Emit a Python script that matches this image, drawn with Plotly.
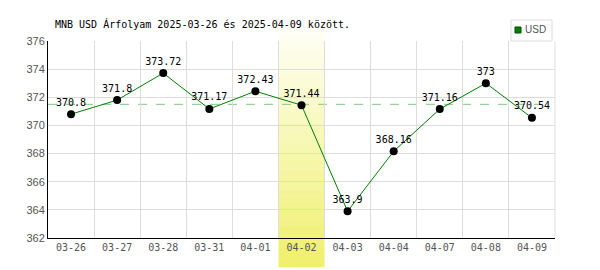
import plotly.graph_objects as go

dates = ["03-26", "03-27", "03-28", "03-31", "04-01", "04-02", "04-03", "04-04", "04-07", "04-08", "04-09"]
usd = [370.8, 371.8, 373.72, 371.17, 372.43, 371.44, 363.9, 368.16, 371.16, 373, 370.54]
ref_level = 371.5
highlight_idx = 5
title_text = "MNB USD Árfolyam 2025-03-26 és 2025-04-09 között."

fig = go.Figure()
fig.add_trace(go.Scatter(
    x=dates, y=usd, mode="lines+markers+text",
    line=dict(color="#008000", width=1),
    marker=dict(color="black", size=8),
    text=[f"{v:g}" for v in usd], textposition="top center",
    textfont=dict(family="DejaVu Sans Mono", size=10, color="black"),
    showlegend=False, cliponaxis=False,
))

shapes = []
# gradient highlight band
n = 40
top, bot = 1.061, -0.147
for i in range(n):
    t = i / (n - 1)
    r = int(255 + (240 - 255) * t)
    g = int(255 + (240 - 255) * t)
    b = int(245 + (110 - 245) * t)
    y0 = top - (top - bot) * i / n
    y1 = top - (top - bot) * (i + 1) / n
    shapes.append(dict(type="rect", xref="x", yref="paper",
                       x0=highlight_idx - 0.5, x1=highlight_idx + 0.5,
                       y0=y1, y1=y0 + 0.002, fillcolor=f"rgb({r},{g},{b})",
                       line=dict(width=0), layer="between"))
shapes.append(dict(type="line", xref="paper", yref="y", x0=0, x1=0.99,
                   y0=ref_level, y1=ref_level,
                   line=dict(color="#80c880", width=1, dash="dash"), layer="between"))
# right edge gridline
shapes.append(dict(type="line", xref="paper", yref="paper", x0=1, x1=1, y0=0, y1=1,
                   line=dict(color="#dddddd", width=1), layer="below"))
# legend box
lx0, lx1 = (511 - 48) / 507, (552 - 48) / 507
ly0, ly1 = (238 - 41) / 197, (238 - 20) / 197
shapes.append(dict(type="rect", xref="paper", yref="paper", x0=lx0, x1=lx1, y0=ly0, y1=ly1,
                   line=dict(color="#dddddd", width=1), fillcolor="white"))
shapes.append(dict(type="rect", xref="paper", yref="paper",
                   x0=(515 - 48) / 507, x1=(521 - 48) / 507,
                   y0=(238 - 33) / 197, y1=(238 - 27) / 197,
                   line=dict(color="#005000", width=1), fillcolor="#008000"))

fig.update_layout(
    width=600, height=270,
    margin=dict(l=48, r=45, t=41, b=32),
    paper_bgcolor="white", plot_bgcolor="white",
    shapes=shapes,
    annotations=[
        dict(text=title_text, xref="paper", yref="paper", x=(53 - 48) / 507, y=(238 - 24) / 197,
             xanchor="left", yanchor="middle", showarrow=False,
             font=dict(family="DejaVu Sans Mono", size=10, color="black")),
        dict(text="USD", xref="paper", yref="paper", x=(523 - 48) / 507, y=(238 - 30) / 197,
             xanchor="left", yanchor="middle", showarrow=False,
             font=dict(family="Liberation Sans", size=10, color="#555555")),
    ],
    xaxis=dict(type="category", tickson="boundaries", showgrid=True, gridcolor="#dddddd",
               gridwidth=1, ticks="", showline=True, linecolor="black", linewidth=1,
               tickfont=dict(family="DejaVu Sans Mono", size=10, color="#555555"),
               range=[-0.5, len(dates) - 0.5], zeroline=False),
    yaxis=dict(range=[362, 376], dtick=2, showgrid=True, gridcolor="#dddddd", gridwidth=1,
               ticks="", showline=True, linecolor="black", linewidth=1,
               tickfont=dict(family="Liberation Sans", size=11, color="#555555"),
               zeroline=False),
)

fig.write_html("out.html")
